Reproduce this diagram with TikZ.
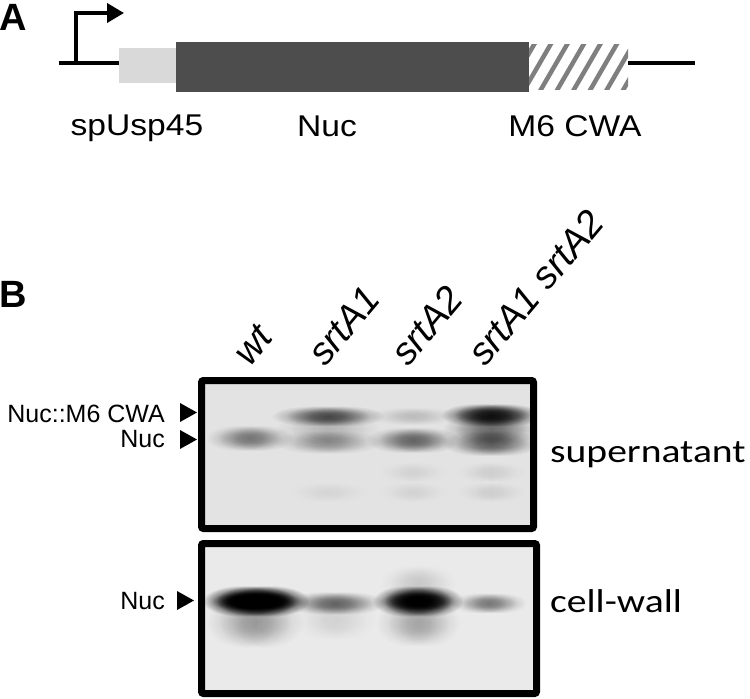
\documentclass[tikz,border=0pt]{standalone}
\usepackage{fontspec}
\setmainfont{Liberation Sans}
\newfontfamily\lblfont[FakeStretch=1.12]{Liberation Sans}
\newfontfamily\calfont[FakeStretch=1.2]{Carlito}
\usetikzlibrary{arrows.meta,fadings}
\pgfdeclareradialshading{bandshade}{\pgfpointorigin}{color(0bp)=(white); color(9bp)=(white!88!black); color(25bp)=(black); color(50bp)=(black)}
\pgfdeclarefading{bandfade}{\pgfuseshading{bandshade}}
\definecolor{lightseg}{HTML}{D9D9D9}
\definecolor{darkseg}{HTML}{4D4D4D}
\definecolor{hatchgray}{HTML}{7F7F7F}
\definecolor{gelbgtop}{HTML}{E3E3E3}
\definecolor{gelbgbot}{HTML}{EAEAEA}
% one soft blob: centre (#1,#2), fade-out semi-axes #3,#4, opacity #5
\newcommand{\blob}[5]{\fill[black, fill opacity=#5, path fading=bandfade] ({#1-2*#3},{#2-2*#4}) rectangle ({#1+2*#3},{#2+2*#4});}
% one band: centre (#1,#2), half width #3, half height #4, darkness #5
\newcommand{\gelband}[5]{%
  \pgfmathsetmacro\bop{1-sqrt(1-#5)}%
  \blob{#1-0.42*#3}{#2}{0.6*#3}{1.3*#4}{\bop}%
  \blob{#1}{#2}{0.6*#3}{1.3*#4}{\bop}%
  \blob{#1+0.42*#3}{#2}{0.6*#3}{1.3*#4}{\bop}}
\tikzset{
  panel/.style={font=\bfseries\fontsize{38}{42}\selectfont, inner sep=0pt, anchor=base west},
  seglabel/.style={font=\lblfont\fontsize{30}{36}\selectfont, inner sep=0pt, anchor=base},
  lanelabel/.style={font=\itshape\fontsize{38}{44}\selectfont, inner sep=0pt, anchor=base west, rotate=50},
  bandlabel/.style={font=\fontsize{25}{30}\selectfont, inner sep=0pt, anchor=base east},
  fraction/.style={font=\calfont\fontsize{33}{40}\selectfont, inner sep=0pt, anchor=base west},
  gelframe/.style={line width=7pt, rounded corners=2pt},
  dna/.style={line width=4pt},
  pointer/.style={fill=black},
  hatchline/.style={hatchgray, line width=4.5pt},
}
\begin{document}
\begin{tikzpicture}[x=1pt, y=-1pt]
\useasboundingbox (0,0) rectangle (750,699);
\fill[white] (0,0) rectangle (750,699);

% ---------- Panel A ----------
\node[panel] (labA) at (-1,30) {A};
\draw[dna] (59,63) -- (119,63);
\draw[dna] (628,63) -- (695,63);
\draw[dna, -{Triangle[length=17pt, width=19pt]}] (76,63) |- (124,13);
\fill[lightseg] (119,48) rectangle (176,83);
\fill[darkseg] (176,42) rectangle (529,92);
\begin{scope}
  \clip (529,44) rectangle (628,89);
  \fill[white] (529,44) rectangle (628,89);
  \foreach \x in {490,506.5,...,650} {
    \draw[hatchline] (\x,92) -- ++(29,-50);
  }
\end{scope}
\node[seglabel] (lsp) at (137,135) {spUsp45};
\node[seglabel] (lnuc) at (327,136) {Nuc};
\node[seglabel] (lcwa) at (575,136) {M6 CWA};

% ---------- Panel B ----------
\node[panel] (labB) at (-1,307) {B};

\node[lanelabel] (lwt) at (250,368) {wt};
\node[lanelabel] (lA1) at (325,368) {srtA1};
\node[lanelabel] (lA2) at (408,368) {srtA2};
\node[lanelabel] (lA12) at (485,368) {srtA1 srtA2};

% supernatant gel
\fill[gelbgtop] (201.5,380.5) rectangle (533.5,528.5);
\begin{scope}
\clip (201.5,380.5) rectangle (533.5,528.5);
\gelband{250}{438}{27}{5}{0.38}
\gelband{328}{416}{35}{4}{0.55}
\gelband{328}{429}{33}{6}{0.15}
\gelband{328}{442}{33}{4.5}{0.28}
\gelband{413}{416}{28}{3.5}{0.12}
\gelband{413}{440}{29}{5}{0.45}
\gelband{491}{415}{31}{4.5}{0.85}
\gelband{491}{429}{30}{6}{0.42}
\gelband{491}{443}{30}{5}{0.48}
\gelband{413}{472}{22}{4}{0.045}
\gelband{491}{472}{22}{4}{0.06}
\gelband{413}{492}{22}{4}{0.045}
\gelband{491}{492}{22}{4}{0.06}
\gelband{328}{492}{26}{4}{0.04}
\end{scope}
\draw[gelframe] (201.5,380.5) rectangle (533.5,528.5);

% cell-wall gel
\fill[gelbgbot] (201.5,543.5) rectangle (536.5,693.5);
\begin{scope}
\clip (201.5,543.5) rectangle (536.5,693.5);
\gelband{256}{601}{33}{6}{1}
\gelband{256}{601}{28}{3.5}{0.8}
\gelband{255}{622}{30}{10}{0.26}
\gelband{335}{603}{31}{4.5}{0.45}
\gelband{335}{620}{26}{8}{0.07}
\gelband{418}{601}{28}{6}{0.95}
\gelband{418}{601}{23}{3.5}{0.6}
\gelband{418}{623}{26}{9}{0.22}
\gelband{418}{583}{24}{7}{0.1}
\gelband{489}{603}{23}{4}{0.38}
\end{scope}
\draw[gelframe] (201.5,543.5) rectangle (536.5,693.5);

% band markers
\node[bandlabel] (mcwa) at (165,422) {Nuc::M6 CWA};
\node[bandlabel] (mnuc) at (165,447) {Nuc};
\node[bandlabel] (mnuc2) at (165,609) {Nuc};
\fill[pointer] (180,403) -- (197,412.5) -- (180,422) -- cycle;
\fill[pointer] (180,430) -- (197,439.5) -- (180,449) -- cycle;
\fill[pointer] (177,591) -- (194,600.5) -- (177,610) -- cycle;

\node[fraction] (fsup) at (550,462) {supernatant};
\node[fraction] (fcw) at (550,612) {cell-wall};
\end{tikzpicture}
\end{document}
